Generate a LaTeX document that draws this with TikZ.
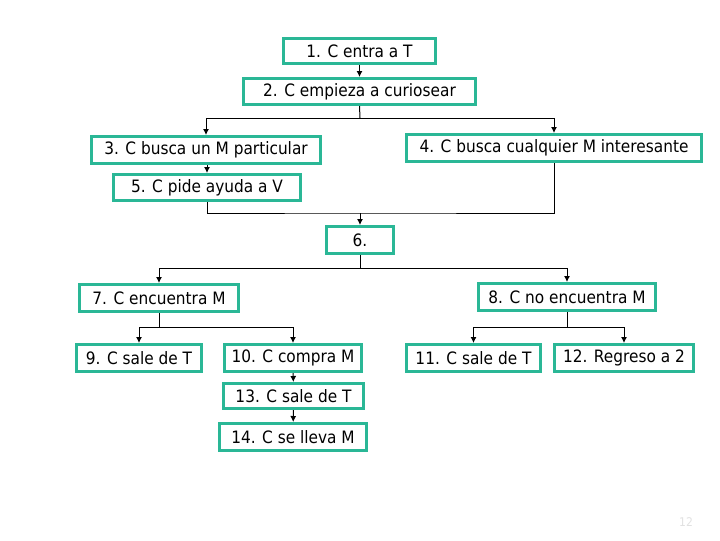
\documentclass[tikz,border=0pt]{standalone}
\usepackage{fontspec}
\setmainfont[FakeStretch=0.9]{DejaVu Sans}
\usetikzlibrary{arrows.meta}
\definecolor{boxteal}{RGB}{42,183,150}
\definecolor{pgnum}{RGB}{225,225,225}
\tikzset{
  x=0.75pt, y=-0.75pt,
  bx/.style n args={2}{draw=boxteal, line width=2.25pt, fill=white, inner sep=0pt,
    font=\fontsize{12.8pt}{14pt}\selectfont, text=black,
    minimum width={(#1-3)*0.75pt}, minimum height={(#2-3)*0.75pt}},
  conn/.style={line width=0.75pt, draw=black},
  arr/.style={conn, -{Latex[length=4.5pt,width=4.5pt]}}
}
\begin{document}
\begin{tikzpicture}
\useasboundingbox (0,0) rectangle (720,540);
\node[bx={155}{28}] (n1) at (359.5,51) {1. C entra a T};
\node[bx={235}{29}] (n2) at (359.5,91.5) {2. C empieza a curiosear};
\node[bx={232}{30}] (n3) at (206,150) {3. C busca un M particular};
\node[bx={298}{30}] (n4) at (554,148) {4. C busca cualquier M interesante};
\node[bx={190}{29}] (n5) at (207,187.5) {5. C pide ayuda a V};
\node[bx={70}{30}] (n6) at (360,240) {6.};
\node[bx={162}{30}] (n7) at (159,298) {7. C encuentra M};
\node[bx={180}{30}] (n8) at (567,297) {8. C no encuentra M};
\node[bx={128}{30}] (n9) at (139,358) {9. C sale de T};
\node[bx={140}{30}] (n10) at (293,358) {10. C compra M};
\node[bx={137}{30}] (n11) at (473.5,358) {11. C sale de T};
\node[bx={142}{30}] (n12) at (624,358) {12. Regreso a 2};
\node[bx={143}{28}] (n13) at (293.5,396) {13. C sale de T};
\node[bx={150}{30}] (n14) at (293,437) {14. C se lleva M};
\node[text=pgnum, font=\fontsize{9pt}{10pt}\selectfont] (pg) at (686,522) {12};

\coordinate (j2) at (360,118);
\coordinate (j5) at (360,213);
\coordinate (j6) at (360,268);
\coordinate (j7) at (159,327);
\coordinate (j8) at (567,327);

\draw[arr] (n1) -- (n2);
\draw[conn] (n2.south) -- (j2);
\draw[arr] (j2) -| (n3.north);
\draw[arr] (j2) -| (n4.north);
\draw[arr] (n3.south -| n5.north) -- (n5.north);
\draw[conn] (n5.south) |- (j5) -| (n4.south);
\draw[arr] (j5) -- (n6.north);
\draw[conn] (n6.south) -- (j6);
\draw[arr] (j6) -| (n7.north);
\draw[arr] (j6) -| (n8.north);
\draw[conn] (n7.south) -- (j7);
\draw[arr] (j7) -| (n9.north);
\draw[arr] (j7) -| (n10.north);
\draw[conn] (n8.south) -- (j8);
\draw[arr] (j8) -| (n11.north);
\draw[arr] (j8) -| (n12.north);
\draw[arr] (n10) -- (n13);
\draw[arr] (n13) -- (n14);
\end{tikzpicture}
\end{document}
